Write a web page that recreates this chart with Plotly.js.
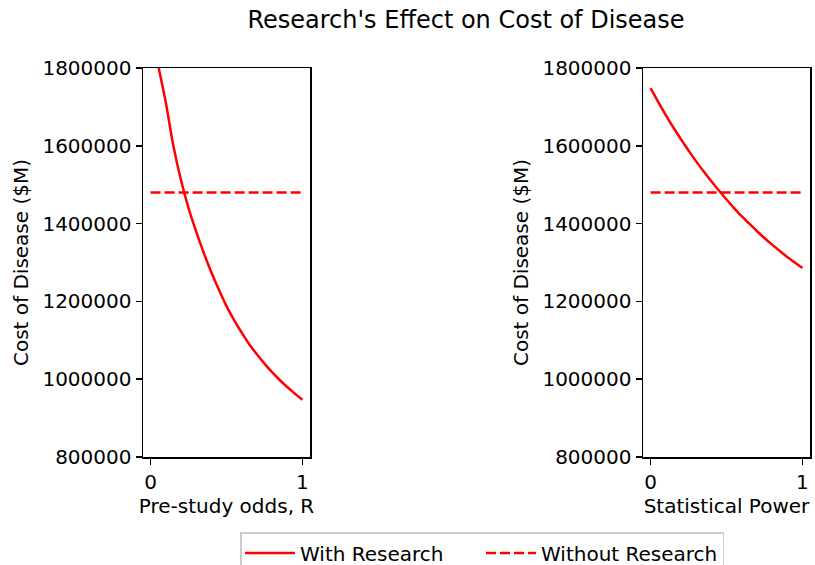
<!DOCTYPE html>
<html>
<head>
<meta charset="utf-8">
<script src="https://cdn.plot.ly/plotly-3.0.1.min.js"></script>
<style>html,body{margin:0;padding:0;background:#fff;}#chart{width:815px;height:565px;}</style>
</head>
<body>
<div id="chart"></div>
<script>
// Left panel: pre-study odds R
const oddsR = [0.02, 0.05, 0.1, 0.15, 0.2, 0.25, 0.3, 0.35, 0.4, 0.45, 0.5, 0.55, 0.6, 0.65, 0.7, 0.75, 0.8, 0.85, 0.9, 0.95, 1.0];
const costWithResearchR = [1880000, 1808000, 1712000, 1600000, 1512000, 1440000, 1380000, 1325000, 1275000, 1230000, 1188000, 1152000, 1120000, 1090000, 1064000, 1040000, 1018000, 998000, 980000, 963000, 947000];
const costWithoutResearchR = [1480000, 1480000];
const oddsRLine = [0, 1];

// Right panel: statistical power
const power = [0, 0.05, 0.1, 0.15, 0.2, 0.25, 0.3, 0.35, 0.4, 0.45, 0.5, 0.55, 0.6, 0.65, 0.7, 0.75, 0.8, 0.85, 0.9, 0.95, 1.0];
const costWithResearchP = [1748000, 1713000, 1679000, 1647000, 1617000, 1588000, 1560000, 1534000, 1509000, 1485000, 1462000, 1440000, 1419000, 1400000, 1381000, 1363000, 1346000, 1330000, 1314000, 1300000, 1286000];
const costWithoutResearchP = [1480000, 1480000];
const powerLine = [0, 1];

const yTicks = [800000, 1000000, 1200000, 1400000, 1600000, 1800000];
const xTicks = [0, 1];

const FONT = 'DejaVu Sans, sans-serif';
const tickFont = {family: FONT, size: 20, color: '#000'};

const traces = [
  {x: oddsR, y: costWithResearchR, xaxis: 'x', yaxis: 'y', mode: 'lines', name: 'With Research',
   line: {color: '#ff0000', width: 2.5, shape: 'spline'}, legendgroup: 'a'},
  {x: oddsRLine, y: costWithoutResearchR, xaxis: 'x', yaxis: 'y', mode: 'lines', name: 'Without Research',
   line: {color: '#ff0000', width: 2.5, dash: '10px,4px'}, legendgroup: 'b'},
  {x: power, y: costWithResearchP, xaxis: 'x2', yaxis: 'y2', mode: 'lines', name: 'With Research',
   line: {color: '#ff0000', width: 2.5, shape: 'spline'}, showlegend: false, legendgroup: 'a'},
  {x: powerLine, y: costWithoutResearchP, xaxis: 'x2', yaxis: 'y2', mode: 'lines', name: 'Without Research',
   line: {color: '#ff0000', width: 2.5, dash: '10px,4px'}, showlegend: false, legendgroup: 'b'}
];

function xAxis(domain, title, anchor) {
  return {
    domain: domain, anchor: anchor, range: [-0.05, 1.05],
    tickvals: xTicks, ticktext: xTicks.map(String),
    ticks: 'outside', ticklen: 6, tickwidth: 1.5, tickcolor: '#000',
    showline: true, linecolor: '#000', linewidth: 1.5, mirror: true,
    showgrid: false, zeroline: false, tickfont: tickFont, automargin: false,
    title: {text: title, font: {family: FONT, size: 20, color: '#000'}, standoff: 6}
  };
}
function yAxis(domain, anchor) {
  return {
    domain: domain, anchor: anchor, range: [800000, 1800000],
    tickvals: yTicks, ticktext: yTicks.map(String),
    ticks: 'outside', ticklen: 6, tickwidth: 1.5, tickcolor: '#000',
    showline: true, linecolor: '#000', linewidth: 1.5, mirror: true,
    showgrid: false, zeroline: false, tickfont: tickFont, automargin: false,
    title: {text: 'Cost of Disease ($M)', font: {family: FONT, size: 20, color: '#000'}, standoff: 8}
  };
}

const yDom = [(565 - 457) / 565, (565 - 68) / 565];
const layout = {
  width: 815, height: 565,
  margin: {l: 0, r: 0, t: 0, b: 0, autoexpand: false},
  paper_bgcolor: '#fff', plot_bgcolor: '#fff',
  font: {family: FONT, color: '#000'},
  title: {text: "Research's Effect on Cost of Disease", font: {family: FONT, size: 24, color: '#000'},
          x: 466 / 815, xanchor: 'center', y: 1 - 20 / 565, yanchor: 'middle', xref: 'paper', yref: 'paper'},
  xaxis: xAxis([143 / 815, 310 / 815], 'Pre-study odds, R', 'y'),
  yaxis: yAxis(yDom, 'x'),
  xaxis2: xAxis([643 / 815, 810 / 815], 'Statistical Power', 'y2'),
  yaxis2: yAxis(yDom, 'x2'),
  showlegend: true,
  legend: {orientation: 'h', x: 482 / 815, xanchor: 'center', y: (565 - 532) / 565, yanchor: 'top',
           bgcolor: '#fff', bordercolor: '#cccccc', borderwidth: 1.5,
           entrywidth: 176, entrywidthmode: 'pixels',
           font: {family: FONT, size: 20, color: '#000'}, itemwidth: 50}
};

Plotly.newPlot('chart', traces, layout, {displayModeBar: false, staticPlot: true});
</script>
</body>
</html>
